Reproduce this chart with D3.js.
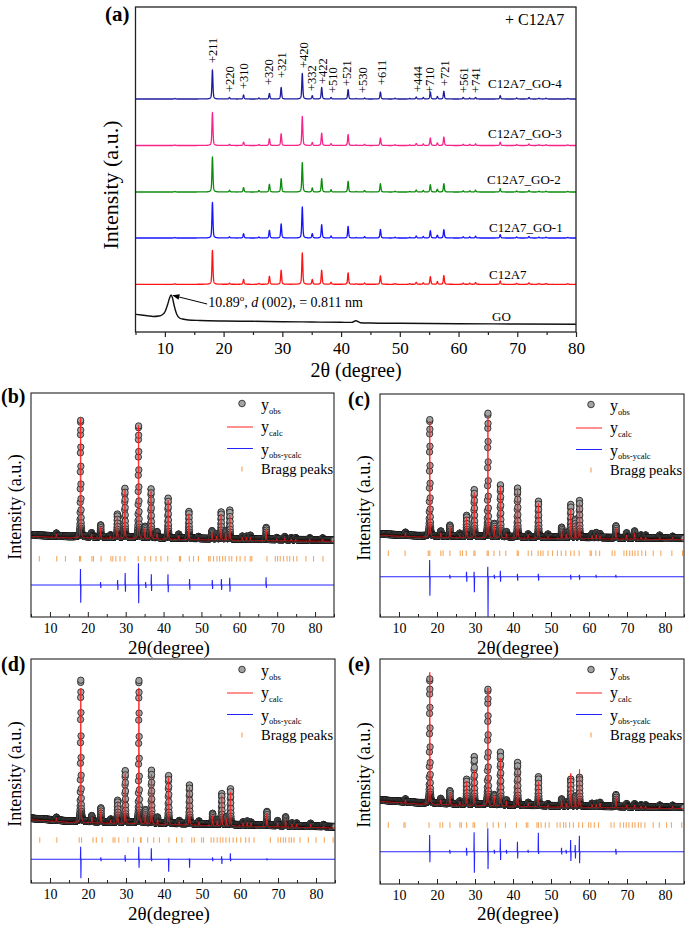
<!DOCTYPE html>
<html><head><meta charset="utf-8">
<script src="https://cdn.jsdelivr.net/npm/d3@7"></script>
<style>
body{margin:0;background:#fff}
svg{display:block}
text{font-family:"Liberation Serif","Times New Roman",serif;fill:#000}
</style>
</head><body>
<svg id="c" width="685" height="925"></svg>
<script>
// ================= DATA =================
// ---- panel (a) ----
const xTicksA = [10,20,30,40,50,60,70,80];
const xMinorA = [5,15,25,35,45,55,65,75];
const seriesNamesA = ["C12A7_GO-4","C12A7_GO-3","C12A7_GO-2","C12A7_GO-1","C12A7","GO"];
const seriesColorsA = ["#1c1c9c","#f7238a","#0c8a0c","#1414ff","#ff1414","#111111"];
const stackOffsetsA = [233, 186.5, 140, 94, 47.7];   // a.u. vertical offset of each crystalline pattern
const peakPosA = [11.7,18.1,21.0,23.4,26.0,27.8,29.8,33.4,35.1,36.7,38.3,41.2,42.6,44.0,46.7,49.2,51.7,52.8,54.0,55.2,56.4,57.5,60.8,61.9,62.9,67.1,69.9,72.0,73.7,74.9,78.6];
const hGO4   = [0.5,29,1.5,4,1,5.5,11.5,25.5,3.3,11.5,1.5,9.5,0.5,1,7,0.8,0.6,2,1.5,7,2.5,7.7,1.5,1,1.5,3.3,1,1.5,0.8,0.8,0.6];
const hGO3   = [0.5,33,1.2,3.3,1,6.7,11.7,29,3,12.3,1.8,11,0.5,1.2,7.5,0.8,0.6,2,1.5,7.5,2.5,8.5,1.2,1.2,1.6,3.3,1,1.5,0.8,0.8,0.6];
const hGO2   = [0.5,35,1.7,4.4,1.5,7.7,13.4,29.4,4,13.4,2.3,10.7,0.5,1.5,8.3,0.8,0.6,2,1.5,7.3,2.7,8.3,1.2,1.2,1.8,3.3,1,1.5,0.8,0.8,0.6];
const hGO1   = [0.5,35.5,1.2,4.3,1,7.7,14,31,4.3,13.3,2,11.7,0.5,1.3,8.5,0.8,0.6,2,1.5,7.3,2.7,8.3,1.2,1.2,1.8,3.3,1,1.5,0.8,0.8,0.6];
const hC12A7 = [0.5,34,1.2,4.8,1,8,14,31.5,4.8,14,2,11.5,0.5,1.3,8.5,0.8,0.6,2,1.5,7.7,2.7,8.7,1.2,1.2,1.8,3.3,1,1.5,0.8,0.8,0.6];
const goTheta = [5,6,7,8,9,9.5,10,10.5,10.8,11.05,11.3,11.6,12,12.5,13,14,16,20,25,30,35,40,41.8,42.5,43.3,45,50,60,70,80];
const goInt   = [17.7,17,16.3,15.5,16,17,20,28,34,37,34,26,18,14,13,12,11.5,11,10.7,10.3,10,9.7,9.6,11.3,9.3,9,8.7,8.3,8,7.7];
const hklLabels = ["+211","+220","+310","+320","+321","+420","+332","+422","+510","+521","+530","+611","+444","+710","+721","+561","+741"];
const hklTheta  = [18.18,21.07,23.5,27.76,29.86,33.66,34.97,36.94,38.54,41.02,43.74,46.87,52.99,55.09,57.64,60.87,62.91];
const hklLevel  = [269,240,243,247,254,264,241,248,239,246,239,247,240,239,246,239,239];

// ---- panels (b)-(e): Rietveld refinements ----
const xTicksR = [10,20,30,40,50,60,70,80];
const xMinorR = [5,15,25,35,45,55,65,75,85];
const peakPosR = [11.7,18.1,21.0,23.4,26.0,27.8,29.8,33.4,35.1,36.7,38.3,41.2,44.0,46.7,49.2,52.8,54.0,55.2,56.4,57.5,60.8,61.9,62.9,67.1,69.9,72.0,73.7,74.9,78.6,82.0];
// (b)
const obsB  = [3,117,4,12,2,23,49,112,11,49,6,40,4,27,2,8,5,27,8,29,3,3,4,12,2,3,2,2,2,2];
const calcB = [3,120,4,11,2,22,48,113,10,48,5,39,3,26,2,7,4,26,7,25,3,3,3,11,2,3,2,2,2,2];
const bgThetaB = [5,15,30,50,70,85];
const bgB      = [82,80.5,80,78.5,77.5,77];
const braggB = [7.2,11.8,14.1,17.8,18.1,21.1,21.5,23.5,26.1,26.6,27.4,28.5,29.8,33.3,35.1,36.6,38.0,39.3,41.1,44.2,44.5,46.8,47.9,49.2,51.9,52.3,53.2,54.1,54.8,55.6,56.3,57.3,58.0,59.3,60.2,61.5,62.9,63.3,67.3,69.5,70.1,70.8,71.7,72.6,73.3,74.3,75.2,77.6,79.6,82.1];
const diffPosB  = [18.1,23.4,27.9,29.9,33.4,35.3,36.8,41.2,46.9,52.9,55.3,57.5,67.1];
const diffUpB   = [16,3,5,12,21.7,3,10.7,10.7,6,5,6,7.3,7.7];
const diffDownB = [17.7,3,5,6.7,18.3,3,6,7.3,4.7,4,5,6.7,3];
// (c)
const obsC  = [3,117,5,11,3,21,47,124,13,52,5,49,3,36,3,10,5,33,18,37,4,5,4,12,5,7,3,3,3,2];
const calcC = [3,116,4,11,2,20,45,120,12,51,4,48,3,35,2,9,4,29,16,36,3,4,3,11,4,6,2,2,2,2];
const bgThetaC = [5,15,40,85];
const bgC      = [83,81.3,80.3,78.7];
const braggC = [7.2,11.6,17.7,18.1,21.0,21.6,23.4,26.1,26.7,27.7,29.7,30.0,33.2,33.5,35.0,36.5,38.1,41.1,41.4,44.0,44.9,46.6,47.3,47.9,49.2,50.4,51.7,52.7,53.9,55.2,56.1,57.4,60.3,60.6,61.8,62.8,66.1,66.8,69.2,69.9,70.7,71.4,72.1,72.9,73.9,74.9,76.9,78.9,81.8,84.6];
const diffPosC  = [18.1,23.4,27.8,29.8,33.4,35.1,36.7,41.2,46.7,55.2,57.5,61.9,67.1];
const diffUpC   = [16.7,2,5,5,10,2,6,3,3,2,2,2,2];
const diffDownC = [19,2,5,15.6,40,2,5,4,4,3,3,1,1];
// (d)
const obsD  = [3,142,6,14,3,22,52,143,13,53,6,48,3,39,3,11,5,31,8,36,3,4,3,14,5,9,3,3,3,2];
const calcD = [3,134,6,14,3,22,50,136,12,50,5,47,3,38,3,10,5,30,7,34,3,4,3,13,4,8,3,3,3,2];
const bgThetaD = [5,15,30,50,85];
const bgD      = [64.7,62,60.7,59,56.3];
const braggD = [7.3,11.8,17.7,18.3,21.3,22.2,23.7,26.6,27.1,28.1,30.5,32.0,33.8,34.0,35.7,37.3,38.8,41.3,43.3,44.7,47.3,48.0,49.9,50.4,52.4,53.1,54.0,54.8,55.5,56.3,57.2,58.2,59.1,60.2,61.5,62.4,63.7,68.0,70.0,70.7,71.4,72.0,72.9,73.5,74.2,75.8,78.0,80.0,82.2,84.5];
const diffPosD  = [18.1,23.4,29.8,33.4,36.7,41.2,46.7,52.8,55.2,57.5,67.1];
const diffUpD   = [12.6,2,4.3,12.6,11,1,1,2,3,6,1];
const diffDownD = [19,2,2.4,8.4,2,12.4,8.4,2,4.7,2,1];
// (e)
const obsE  = [3,125,5,13,3,25,48,116,10,53,5,43,3,29,2,7,4,27,10,29,3,3,4,12,3,3,2,2,2,2];
const calcE = [3,132,5,12,3,24,35,118,10,48,5,40,3,25,2,7,4,34,10,38,3,3,4,11,3,3,2,2,2,2];
const bgThetaE = [5,15,30,50,85];
const bgE      = [84,81.3,79.7,78.3,76.7];
const braggE = [7.2,11.3,11.6,17.9,20.8,21.5,23.4,26.0,26.4,27.8,29.5,29.9,33.2,34.8,36.2,38.0,40.9,43.5,43.9,46.3,46.7,47.4,48.5,49.5,51.6,52.4,53.3,53.9,54.9,55.9,57.3,58.3,59.9,60.5,61.4,62.5,65.8,66.6,68.2,69.1,69.8,70.5,71.4,72.1,73.0,73.7,74.7,76.9,78.5,80.4,81.7,84.4];
const diffPosE  = [18.1,23.4,27.8,29.8,33.4,35.1,36.7,38.3,41.2,44.0,46.7,52.8,54.0,55.2,56.4,57.5,67.1];
const diffUpE   = [16.7,2,4,19.4,23.4,2,12.7,2,10,2,19,4,2,11.7,6.7,16,3];
const diffDownE = [10.6,2,4,21,17.3,2,8.3,2,6.7,1,2.3,2.7,2,9.3,6.7,11.6,3];

// ================= DRAWING =================
const svg = d3.select("#c");
const FONT = '"Liberation Serif","Times New Roman",serif';

function pv(dx, w){ const t = (dx/(w/2))**2; return 0.5/(1+t) + 0.5*Math.exp(-Math.LN2*t); }
function profile(x, pos, h, w){
  let s = 0;
  for (let i=0;i<pos.length;i++){ const d = x-pos[i]; if (Math.abs(d)<4) s += h[i]*pv(d,w); }
  return s;
}
const defs = svg.append("defs");

// ---------- panel (a) ----------
(function(){
  const B = {l:135.5, r:576, t:7, b:332};
  const x = d3.scaleLinear().domain([5,80]).range([B.l,B.r]);
  const y = d3.scaleLinear().domain([0,325]).range([B.b,B.t]);
  const g = svg.append("g");
  const line = d3.line().x(d=>x(d[0])).y(d=>y(d[1]));
  const grid = d3.range(5, 80.0001, 0.02);
  const hs = [hGO4,hGO3,hGO2,hGO1,hC12A7];
  hs.forEach((h,i)=>{
    const pts = grid.map(t=>[t, stackOffsetsA[i] + profile(t, peakPosA, h, 0.2)]);
    g.append("path").attr("d", line(pts)).attr("fill","none")
      .attr("stroke", seriesColorsA[i]).attr("stroke-width",1.3).attr("stroke-linejoin","round");
  });
  const goPts = goTheta.map((t,i)=>[t, goInt[i]]);
  g.append("path").attr("d", d3.line().x(d=>x(d[0])).y(d=>y(d[1])).curve(d3.curveMonotoneX)(goPts))
    .attr("fill","none").attr("stroke", seriesColorsA[5]).attr("stroke-width",1.4);

  g.append("rect").attr("x",B.l).attr("y",B.t).attr("width",B.r-B.l).attr("height",B.b-B.t)
    .attr("fill","none").attr("stroke","#222").attr("stroke-width",1.3);
  const ax = g.append("g").attr("transform",`translate(0,${B.b})`)
    .call(d3.axisBottom(x).tickValues(xTicksA).tickSize(5).tickPadding(5).tickSizeOuter(0));
  ax.select(".domain").remove();
  ax.selectAll("line").attr("stroke","#222").attr("stroke-width",1.2);
  ax.selectAll("text").attr("font-family",FONT).attr("font-size",17).attr("fill","#000");
  const axm = g.append("g").attr("transform",`translate(0,${B.b})`)
    .call(d3.axisBottom(x).tickValues(xMinorA).tickSize(3).tickFormat("").tickSizeOuter(0));
  axm.select(".domain").remove();
  axm.selectAll("line").attr("stroke","#222").attr("stroke-width",1.2);

  svg.append("text").attr("x",356).attr("y",377).attr("text-anchor","middle").attr("font-size",20).text("2θ (degree)");
  svg.append("text").attr("transform","translate(118,185) rotate(-90)").attr("text-anchor","middle")
    .attr("font-size",22).text("Intensity (a.u.)");
  svg.append("text").attr("x",105).attr("y",21).attr("font-size",21).attr("font-weight","bold").text("(a)");
  svg.append("text").attr("x",505).attr("y",25).attr("font-size",16).text("+ C12A7");

  const nameY = [88,138,184,232,279,321];
  const nameX = [488,488,487,489,489,492];
  seriesNamesA.forEach((n,i)=>{
    svg.append("text").attr("x",nameX[i]).attr("y",nameY[i]).attr("font-size",13).text(n);
  });
  hklLabels.forEach((lab,i)=>{
    const px = x(hklTheta[i]) + 4.2, py = y(hklLevel[i]);
    svg.append("text").attr("transform",`translate(${px},${py}) rotate(-90)`).attr("font-size",12.5).text(lab);
  });

  defs.append("marker").attr("id","arr").attr("viewBox","0 0 10 10").attr("refX",9).attr("refY",5)
    .attr("markerWidth",7).attr("markerHeight",7).attr("orient","auto")
    .append("path").attr("d","M0,1 L10,5 L0,9 Z").attr("fill","#000");
  g.append("line").attr("x1",x(17.2)).attr("y1",y(28)).attr("x2",x(11.4)).attr("y2",y(36.5))
    .attr("stroke","#000").attr("stroke-width",1).attr("marker-end","url(#arr)");
  const t = svg.append("text").attr("x",x(17.4)).attr("y",y(25)).attr("font-size",14);
  t.append("tspan").text("10.89");
  t.append("tspan").attr("font-size",9).attr("dy",-6).text("o");
  t.append("tspan").attr("dy",6).text(", ");
  t.append("tspan").attr("font-style","italic").text("d");
  t.append("tspan").text(" (002),  = 0.811 nm");
})();

// ---------- panels (b)-(e) ----------
const panels = [
  {tag:"(b)", box:{l:31,r:334,t:393,b:617}, obs:obsB, calc:calcB, bgT:bgThetaB, bg:bgB, bragg:braggB,
   dP:diffPosB, dU:diffUpB, dD:diffDownB, diffBase:32, braggLevel:58.2, tagXY:[1,403], ylab:[21,507], xlab:[169,654]},
  {tag:"(c)", box:{l:380,r:684,t:394,b:617}, obs:obsC, calc:calcC, bgT:bgThetaC, bg:bgC, bragg:braggC,
   dP:diffPosC, dU:diffUpC, dD:diffDownC, diffBase:40.3, braggLevel:63.8, tagXY:[348,406], ylab:[370,508], xlab:[518,654]},
  {tag:"(d)", box:{l:31,r:335,t:659,b:883}, obs:obsD, calc:calcD, bgT:bgThetaD, bg:bgD, bragg:braggD,
   dP:diffPosD, dU:diffUpD, dD:diffDownD, diffBase:23.7, braggLevel:43, tagXY:[1,671], ylab:[21,774], xlab:[169,920]},
  {tag:"(e)", box:{l:380,r:684,t:659,b:884}, obs:obsE, calc:calcE, bgT:bgThetaE, bg:bgE, bragg:braggE,
   dP:diffPosE, dU:diffUpE, dD:diffDownE, diffBase:32.3, braggLevel:59, tagXY:[348,671], ylab:[370,775], xlab:[518,920]}
];

panels.forEach((P,pi)=>{
  const B = P.box;
  const x = d3.scaleLinear().domain([5,85]).range([B.l,B.r]);
  const y = d3.scaleLinear().domain([0,B.b-B.t]).range([B.b,B.t]);
  const bgScale = d3.scaleLinear().domain(P.bgT).range(P.bg);
  const g = svg.append("g");
  const cid = "clip"+pi;
  defs.append("clipPath").attr("id",cid).append("rect")
    .attr("x",B.l).attr("y",B.t).attr("width",B.r-B.l).attr("height",B.b-B.t);
  const gc = g.append("g").attr("clip-path",`url(#${cid})`);

  const grid = d3.range(5.007, 85.01, 0.02);
  const obsPts = grid.map(t=>[t, bgScale(t) + profile(t, peakPosR, P.obs, 0.16)]);
  gc.append("g").selectAll("circle").data(obsPts).join("circle")
    .attr("cx",d=>x(d[0])).attr("cy",d=>y(d[1])).attr("r",3.2)
    .attr("fill","#a3a3a3").attr("stroke","#1a1a1a").attr("stroke-width",0.8);
  const gridC = d3.range(5, 85.001, 0.01);
  const calcPts = gridC.map(t=>[t, bgScale(t) - 1.3 + profile(t, peakPosR, P.calc, 0.16)]);
  gc.append("path").attr("d", d3.line().x(d=>x(d[0])).y(d=>y(d[1]))(calcPts))
    .attr("fill","none").attr("stroke","#ff2020").attr("stroke-width",1).attr("stroke-opacity",0.9);
  gc.append("g").selectAll("line").data(P.bragg).join("line")
    .attr("x1",d=>x(d)).attr("x2",d=>x(d))
    .attr("y1",y(P.braggLevel)-2.8).attr("y2",y(P.braggLevel)+2.8)
    .attr("stroke","#f5a860").attr("stroke-width",1.1);
  const dpts = [[5,P.diffBase]];
  P.dP.forEach((p,i)=>{
    dpts.push([p-0.1,P.diffBase],[p-0.03,P.diffBase+P.dU[i]],[p+0.03,P.diffBase-P.dD[i]],[p+0.1,P.diffBase]);
  });
  dpts.push([85,P.diffBase]);
  gc.append("path").attr("d", d3.line().x(d=>x(d[0])).y(d=>y(d[1]))(dpts))
    .attr("fill","none").attr("stroke","#2424ff").attr("stroke-width",1.1);

  g.append("rect").attr("x",B.l).attr("y",B.t).attr("width",B.r-B.l).attr("height",B.b-B.t)
    .attr("fill","none").attr("stroke","#222").attr("stroke-width",1.1);
  const ax = g.append("g").attr("transform",`translate(0,${B.b})`)
    .call(d3.axisBottom(x).tickValues(xTicksR).tickSize(-5).tickPadding(6.5).tickSizeOuter(0));
  ax.select(".domain").remove();
  ax.selectAll("line").attr("stroke","#222");
  ax.selectAll("text").attr("font-family",FONT).attr("font-size",14).attr("fill","#000");
  const axm = g.append("g").attr("transform",`translate(0,${B.b})`)
    .call(d3.axisBottom(x).tickValues(xMinorR).tickSize(-3).tickFormat("").tickSizeOuter(0));
  axm.select(".domain").remove();
  axm.selectAll("line").attr("stroke","#222");

  const L = svg.append("g");
  const lx = B.l+211, tx = B.l+230;
  L.append("circle").attr("cx",lx).attr("cy",B.t+10.5).attr("r",3.3).attr("fill","#a3a3a3").attr("stroke","#1a1a1a").attr("stroke-width",0.8);
  L.append("line").attr("x1",B.l+196).attr("x2",B.l+222).attr("y1",B.t+34).attr("y2",B.t+34).attr("stroke","#ff2020").attr("stroke-width",1);
  L.append("line").attr("x1",B.l+196).attr("x2",B.l+222).attr("y1",B.t+55.5).attr("y2",B.t+55.5).attr("stroke","#2424ff").attr("stroke-width",1);
  L.append("line").attr("x1",lx).attr("x2",lx).attr("y1",B.t+73.5).attr("y2",B.t+78.5).attr("stroke","#f5a860").attr("stroke-width",1.2);
  const subs = [["obs",17],["calc",39],["obs-ycalc",61.5]];
  subs.forEach(s=>{
    const tt = L.append("text").attr("x",tx).attr("y",B.t+s[1]).attr("font-size",16);
    tt.append("tspan").text("y");
    tt.append("tspan").attr("font-size",8.5).attr("dy",3.5).text(s[0]);
  });
  L.append("text").attr("x",tx).attr("y",B.t+80.5).attr("font-size",14.5).text("Bragg peaks");

  svg.append("text").attr("x",P.tagXY[0]).attr("y",P.tagXY[1]).attr("font-size",20).attr("font-weight","bold").text(P.tag);
  svg.append("text").attr("transform",`translate(${P.ylab[0]},${P.ylab[1]}) rotate(-90)`).attr("text-anchor","middle")
    .attr("font-size",18).text("Intensity (a.u.)");
  svg.append("text").attr("x",P.xlab[0]).attr("y",P.xlab[1]).attr("text-anchor","middle").attr("font-size",19).text("2θ(degree)");
});
</script>
</body></html>
